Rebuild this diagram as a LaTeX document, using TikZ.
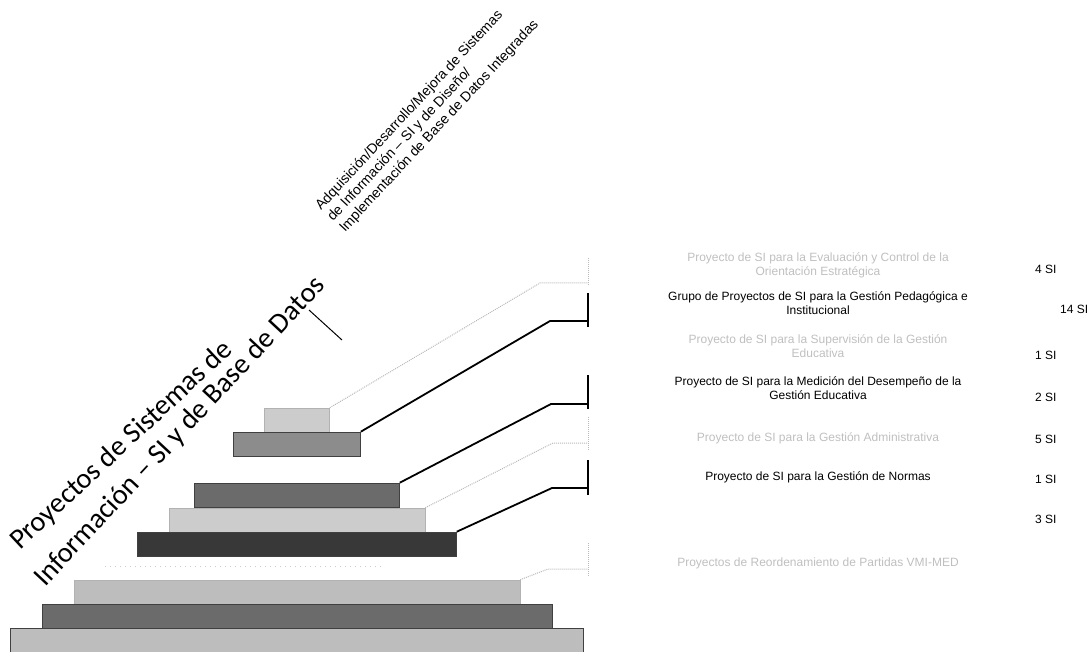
\documentclass[tikz,border=0pt]{standalone}
\usepackage{fontspec}
\setmainfont{Liberation Sans}
\newfontfamily\ttlfont{Carlito}
\usetikzlibrary{positioning}
\definecolor{barlight}{gray}{0.80}
\definecolor{barpale}{gray}{0.74}
\definecolor{barmid}{gray}{0.55}
\definecolor{bardark}{gray}{0.42}
\definecolor{barblack}{gray}{0.22}

\begin{document}
\begin{tikzpicture}[x=1pt, y=-1pt,
  bar/.style={draw=black!75, line width=0.6pt, inner sep=0pt, minimum height=24pt},
  lead/.style={line width=1.8pt},
  faintlead/.style={gray!55, line width=1pt, densely dotted},
  lbl/.style={font=\fontsize{12}{14}\selectfont, align=center},
  faintlbl/.style={lbl, text=gray!50},
  num/.style={font=\fontsize{12}{14}\selectfont, anchor=west, inner sep=0pt},
  ttl/.style={font=\ttlfont\fontsize{28.5}{30}\selectfont, inner sep=0pt, anchor=base west},
  adq/.style={font=\fontsize{14}{15}\selectfont, rotate=47, inner sep=0pt, anchor=base west}]
\useasboundingbox (0,0) rectangle (1087,652);

% stepped bars
\node[bar, fill=barlight, draw=gray!60, minimum width=65pt] (b1) at (297,420) {};
\node[bar, fill=barmid, minimum width=127pt] (b2) at (297,444) {};
\node[bar, fill=bardark, minimum width=205pt] (b3) at (297,495) {};
\node[bar, fill=barlight, draw=gray!60, minimum width=256pt] (b4) at (297,520) {};
\node[bar, fill=barblack, minimum width=319pt] (b5) at (297,544) {};
\node[bar, fill=barpale, draw=gray!60, minimum width=446pt] (b6) at (297,592) {};
\node[bar, fill=bardark, minimum width=510pt] (b7) at (297,616) {};
\node[bar, fill=barpale, minimum width=573pt] (b8) at (297,640) {};
\draw[gray!40, loosely dotted, line width=1pt] (105,566) -- (385,566);

% titles
\node[ttl, rotate=43] (ttl1) at (20,551) {Proyectos de Sistemas de};
\node[ttl, rotate=47] (ttl2) at (45,588) {Información – SI y de Base de Datos};
\coordinate (ptrA) at (309,310);
\coordinate (ptrB) at (342,340);
\draw[line width=1pt] (ptrA) -- (ptrB);

\node[adq] (adq1) at (321,211) {Adquisición/Desarrollo/Mejora de Sistemas};
\node[adq] (adq2) at (333,222) {de Información – SI y de Diseño/};
\node[adq] (adq3) at (345,233) {Implementación de Base de Datos Integradas};

% brackets and leads
\coordinate (k0) at (540,283); \coordinate (e0) at (588,283);
\coordinate (t0) at (588,258); \coordinate (u0) at (588,286);
\draw[faintlead] (b1.north east) -- (k0) -- (e0);
\draw[faintlead] (t0) -- (u0);

\coordinate (k1) at (550,321); \coordinate (e1) at (588,321);
\coordinate (t1) at (588,293); \coordinate (u1) at (588,327);
\draw[lead] (b2.north east) -- (k1) -- (e1);
\draw[lead] (t1) -- (u1);

\coordinate (k2) at (551,404); \coordinate (e2) at (588,404);
\coordinate (t2) at (588,375); \coordinate (u2) at (588,409);
\draw[lead] (b3.north east) -- (k2) -- (e2);
\draw[lead] (t2) -- (u2);

\coordinate (k3) at (553,443); \coordinate (e3) at (588,443);
\coordinate (t3) at (588,417); \coordinate (u3) at (588,450);
\draw[faintlead] (b4.north east) -- (k3) -- (e3);
\draw[faintlead] (t3) -- (u3);

\coordinate (k4) at (552,488); \coordinate (e4) at (588,488);
\coordinate (t4) at (588,460); \coordinate (u4) at (588,495);
\draw[lead] (b5.north east) -- (k4) -- (e4);
\draw[lead] (t4) -- (u4);

\coordinate (k5) at (548,569); \coordinate (e5) at (588,569);
\coordinate (t5) at (588,543); \coordinate (u5) at (588,577);
\draw[faintlead] (b6.north east) -- (k5) -- (e5);
\draw[faintlead] (t5) -- (u5);

% project labels
\node[faintlbl] (p1) at (818,265) {Proyecto de SI para la Evaluación y Control de la\\Orientación Estratégica};
\node[lbl] (p2) at (818,303) {Grupo de Proyectos de SI para la Gestión Pedagógica e\\Institucional};
\node[faintlbl] (p3) at (818,346) {Proyecto de SI para la Supervisión de la Gestión\\Educativa};
\node[lbl] (p4) at (818,388) {Proyecto de SI para la Medición del Desempeño de la\\Gestión Educativa};
\node[faintlbl] (p5) at (818,438) {Proyecto de SI para la Gestión Administrativa};
\node[lbl] (p6) at (818,477) {Proyecto de SI para la Gestión de Normas};
\node[faintlbl] (p7) at (818,563) {Proyectos de Reordenamiento de Partidas VMI-MED};

% counts
\node[num] (n1) at (1035,269) {4 SI};
\node[num] (n2) at (1060,309) {14 SI};
\node[num] (n3) at (1035,355) {1 SI};
\node[num] (n4) at (1035,397) {2 SI};
\node[num] (n5) at (1035,439) {5 SI};
\node[num] (n6) at (1035,479) {1 SI};
\node[num] (n7) at (1035,519) {3 SI};
\end{tikzpicture}
\end{document}
